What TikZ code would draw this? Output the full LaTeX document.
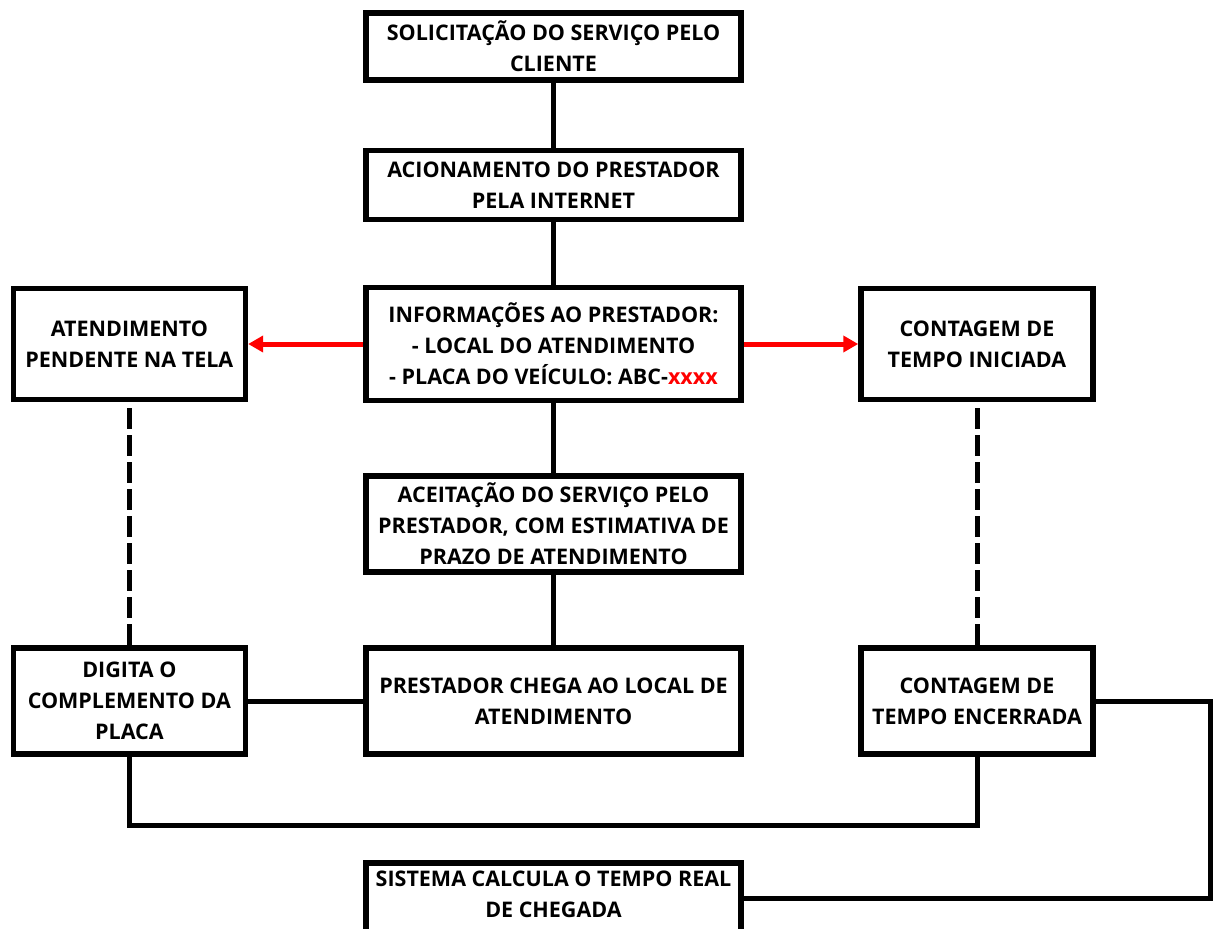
\documentclass[tikz,border=0pt]{standalone}
\usepackage{fontspec}
\setmainfont{Open Sans}
\usetikzlibrary{arrows.meta}
\begin{document}
\begin{tikzpicture}[x=1pt,y=-1pt,
 txt/.style={inner sep=0pt, align=center, font=\fontsize{21.5}{31}\selectfont\bfseries},
 box/.style={txt, draw, line width=5.5pt},
 cbox/.style={box, minimum width=375pt},
 sbox/.style={box, minimum width=232pt},
 conn/.style={line width=5pt},
 dconn/.style={line width=5pt, dash pattern=on 21pt off 6pt, dash phase=21pt},
 rarrow/.style={draw=red, line width=5pt, -{Triangle[length=15pt,width=16pt]}}]
\path[use as bounding box] (0,0) rectangle (1213,929);
\clip (0,0) rectangle (1213,929);
\node[cbox, minimum height=67pt] (n1) at (553.5,46.5) {SOLICITAÇÃO DO SERVIÇO PELO\\CLIENTE};
\node[cbox, minimum height=69pt] (n2) at (553.5,185) {ACIONAMENTO DO PRESTADOR\\PELA INTERNET};
\node[cbox, minimum height=113pt] (n3) at (553.5,344) {INFORMAÇÕES AO PRESTADOR:\\- LOCAL DO ATENDIMENTO\\- PLACA DO VEÍCULO: ABC-\textcolor{red}{xxxx}};
\node[sbox, minimum height=111pt] (l1) at (129.4,344) {ATENDIMENTO\\PENDENTE NA TELA};
\node[sbox, minimum height=111pt] (r1) at (977,344) {CONTAGEM DE\\TEMPO INICIADA};
\node[cbox, minimum height=96pt] (n4) at (553.5,524) {ACEITAÇÃO DO SERVIÇO PELO\\PRESTADOR, COM ESTIMATIVA DE\\PRAZO DE ATENDIMENTO};
\node[cbox, minimum height=106pt] (n5) at (553.5,701) {PRESTADOR CHEGA AO LOCAL DE\\ATENDIMENTO};
\node[sbox, minimum height=106pt] (l2) at (129.4,701) {DIGITA O\\COMPLEMENTO DA\\PLACA};
\node[sbox, minimum height=106pt] (r2) at (977,701) {CONTAGEM DE\\TEMPO ENCERRADA};
\node[cbox, minimum height=70pt] (n6) at (553.5,898) {};
\node[txt] (n6t) at (553.5,894) {SISTEMA CALCULA O TEMPO REAL\\DE CHEGADA};
\coordinate (bl) at (129.4,825);
\coordinate (rc) at (1210,701);
\draw[conn] (n1.south) -- (n2.north);
\draw[conn] (n2.south) -- (n3.north);
\draw[conn] (n3.south) -- (n4.north);
\draw[conn] (n4.south) -- (n5.north);
\draw[conn] (l2.east) -- (n5.west);
\draw[rarrow] (n3.west) -- (l1.east);
\draw[rarrow] (n3.east) -- (r1.west);
\draw[dconn] (l1.south) -- (l2.north);
\draw[dconn] (r1.south) -- (r2.north);
\draw[conn] (l2.south) -- (bl) -| (r2.south);
\draw[conn] (r2.east) -- (rc) |- (n6.east);
\end{tikzpicture}
\end{document}
